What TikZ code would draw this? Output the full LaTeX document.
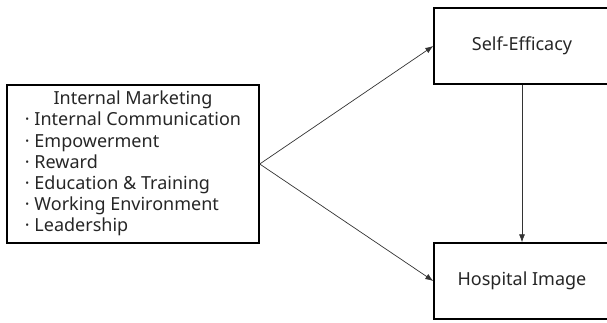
\documentclass[tikz,border=0pt]{standalone}
\usepackage{fontspec}
\setmainfont{Noto Sans}
\usetikzlibrary{arrows.meta}

\tikzstyle{block}=[draw,line width=1.4pt,inner sep=0pt,text=black!85,font=\fontsize{18}{21.2}\selectfont]
\tikzstyle{edge} = [draw,line width=0.7pt,black!80,-{Latex[length=8pt,width=6pt]}]

\begin{document}
\begin{tikzpicture}[x=1pt,y=-1pt]
     \useasboundingbox (0,0) rectangle (607,322);

     \node[block,minimum width=252pt,minimum height=158pt] (im) at (133,164)
       {\raisebox{-3pt}{\begin{tabular}{@{}l@{}}
        \multicolumn{1}{@{}c@{}}{Internal Marketing}\\
        · Internal Communication\\
        · Empowerment\\
        · Reward\\
        · Education \& Training\\
        · Working Environment\\
        · Leadership
        \end{tabular}}};

     \foreach \pos/\name/\txt in {{(522,46)/se/Self-Efficacy},
       {(522,281)/hi/Hospital Image}}
     \node[block,minimum width=176pt,minimum height=76pt] (\name) at \pos {\txt};

     \foreach \source/ \dest  in { im.east/se.west, im.east/hi.west, se/hi}
     \path[edge] (\source) --   (\dest);

   \end{tikzpicture}
\end{document}
